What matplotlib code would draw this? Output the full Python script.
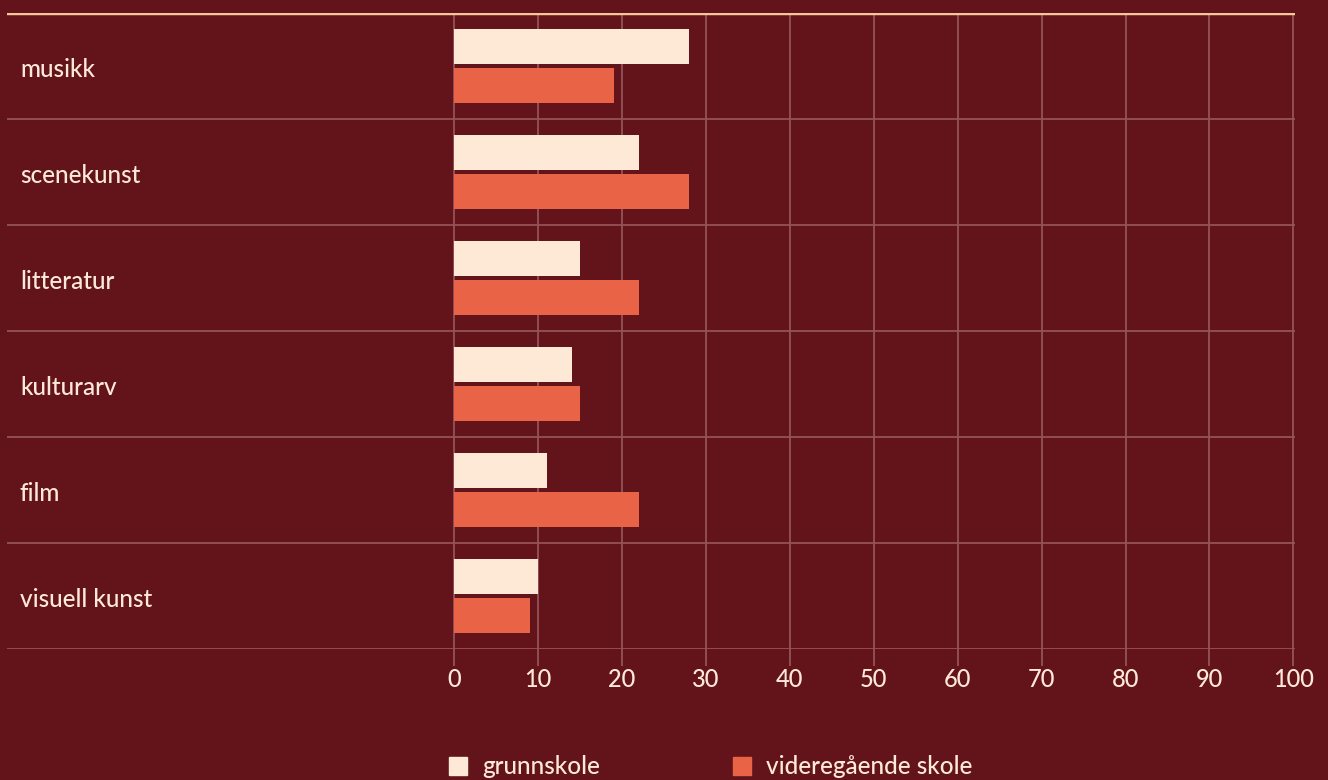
import matplotlib
matplotlib.use("Agg")
import matplotlib.pyplot as plt
from matplotlib.patches import Rectangle
import numpy as np

categories = ["musikk", "scenekunst", "litteratur", "kulturarv", "film", "visuell kunst"]
grunnskole = [28, 22, 15, 14, 11, 10]
videregaende = [19, 28, 22, 15, 22, 9]
xticks = [0, 10, 20, 30, 40, 50, 60, 70, 80, 90, 100]
series_names = ["grunnskole", "videregående skole"]

bg = "#63141a"
cream = "#fee9d7"
orange = "#e96446"
grid = "#955458"
topline = "#f4c79a"

plt.rcParams["font.family"] = ["Lato", "DejaVu Sans"]

fig = plt.figure(figsize=(13.28, 7.80), dpi=100, facecolor=bg)
ax = fig.add_axes([7 / 1328, 1 - 649 / 780, (1295 - 7) / 1328, (649 - 13) / 780])
ax.set_facecolor(bg)

y = np.arange(len(categories))
ax.barh(y - 0.18, grunnskole, height=0.33, color=cream, zorder=3)
ax.barh(y + 0.18, videregaende, height=0.33, color=orange, zorder=3)

ax.set_ylim(len(categories) - 0.5, -0.5)
ax.set_xlim(-53.3, 100.2)

# row separators and vertical grid
for b in np.arange(0.5, len(categories), 1.0):
    ax.axhline(b, color=grid, lw=1.3, zorder=1)
ax.vlines(xticks, -0.5, len(categories) - 0.5, color=grid, lw=1.3, zorder=1)
ax.axhline(-0.5, color=topline, lw=3.2, zorder=4)

for s in ax.spines.values():
    s.set_visible(False)
ax.set_yticks([])
ax.set_xticks(xticks)
ax.set_xticklabels([str(t) for t in xticks])
ax.tick_params(axis="x", length=12, width=1.3, color=grid, labelcolor=cream,
               labelsize=17, pad=2)
for lab in ax.get_xticklabels():
    lab.set_fontweight("medium")

for i, c in enumerate(categories):
    ax.text(13 / 1288, i + 0.03, c, transform=ax.get_yaxis_transform(),
            ha="left", va="center", color=cream, fontsize=17.5, fontweight="medium")

# legend
legend_items = [(449, cream, series_names[0]), (733, orange, series_names[1])]
for x0, col, name in legend_items:
    fig.add_artist(Rectangle((x0 / 1328, 1 - 775 / 780), 18 / 1328, 18 / 780,
                             transform=fig.transFigure, color=col))
    fig.text((x0 + 33) / 1328, 1 - 766 / 780, name, color=cream, fontsize=17.5,
             fontweight="medium", ha="left", va="center")

fig.savefig("out.png", dpi=100, facecolor=bg)
